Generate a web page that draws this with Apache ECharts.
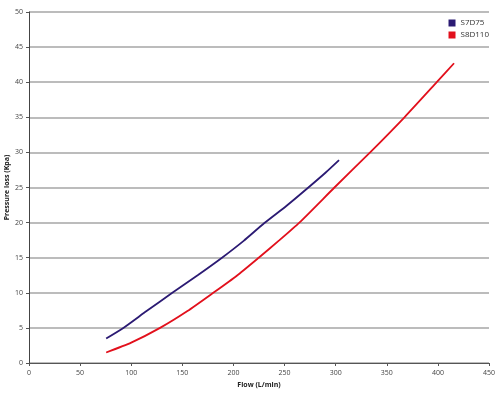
<!DOCTYPE html>
<html><head><meta charset="utf-8">
<script src="https://cdn.jsdelivr.net/npm/echarts@6/dist/echarts.min.js"></script>
<style>html,body{margin:0;padding:0;background:#fff}#c{width:500px;height:393px}</style>
</head><body><div id="c"></div>
<script>
const seriesNames = ['S7D75', 'S8D110'];
const s7d75 = [[75.5,3.5],[92.3,5],[115,7.4],[140.2,10],[165,12.5],[188.8,15],[210,17.4],[230,19.9],[252,22.4],[273.3,25],[290,27.1],[303.3,28.9]];
const s8d110 = [[75.5,1.5],[100,2.9],[128.2,5],[155,7.4],[180.3,10],[203,12.4],[224.7,15],[245,17.5],[264.5,20],[298.8,25],[333.7,30],[367.3,35],[398.9,40],[415.8,42.7]];
const xTicks = [0,50,100,150,200,250,300,350,400,450];
const yTicks = [0,5,10,15,20,25,30,35,40,45,50];
const colors = ['#2b1a73', '#e2101c'];
const font = 'Open Sans';
const chart = echarts.init(document.getElementById('c'));
chart.setOption({
  animation: false,
  grid: {left: 29, right: 11, top: 12, bottom: 30, containLabel: false, outerBoundsMode: 'none'},
  legend: {
    orient: 'vertical', right: 6, top: 14, itemWidth: 7, itemHeight: 7, itemGap: 4,
    icon: 'rect', data: seriesNames,
    textStyle: {fontFamily: font, fontSize: 8, color: '#333'}
  },
  xAxis: {
    type: 'value', min: xTicks[0], max: xTicks[xTicks.length-1], interval: 50,
    name: 'Flow (L/min)', nameLocation: 'middle', nameGap: 18, nameMoveOverlap: false,
    nameTextStyle: {fontFamily: font, fontSize: 7, fontWeight: 'bold', color: '#222'},
    axisLine: {lineStyle: {color: '#555', width: 1}},
    axisTick: {show: true, length: 3, lineStyle: {color: '#555'}},
    axisLabel: {fontFamily: font, fontSize: 7, color: '#444', margin: 6},
    splitLine: {show: false}
  },
  yAxis: {
    type: 'value', min: yTicks[0], max: yTicks[yTicks.length-1], interval: 5,
    name: 'Pressure loss (Kpa)', nameLocation: 'middle', nameGap: 19, nameMoveOverlap: false,
    nameTextStyle: {fontFamily: font, fontSize: 7, fontWeight: 'bold', color: '#222'},
    axisLine: {show: true, lineStyle: {color: '#444', width: 1}},
    axisTick: {show: true, length: 3, lineStyle: {color: '#555'}},
    axisLabel: {fontFamily: font, fontSize: 7, color: '#444', margin: 6},
    splitLine: {show: true, lineStyle: {color: '#a6a6a6', width: 1.5}}
  },
  series: [
    {name: seriesNames[0], type: 'line', data: s7d75, smooth: 0.2, symbol: 'none',
     lineStyle: {color: colors[0], width: 1.8}, itemStyle: {color: colors[0]}},
    {name: seriesNames[1], type: 'line', data: s8d110, smooth: 0.2, symbol: 'none',
     lineStyle: {color: colors[1], width: 1.8}, itemStyle: {color: colors[1]}}
  ]
});
</script></body></html>
